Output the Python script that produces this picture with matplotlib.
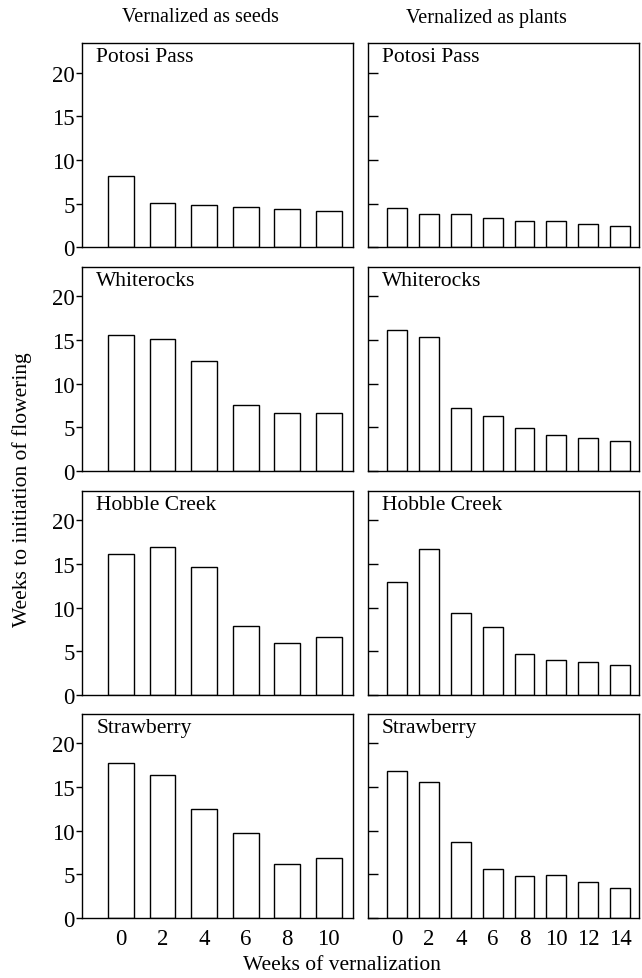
import matplotlib
matplotlib.use("Agg")
import matplotlib.pyplot as plt

plt.rcParams["font.family"] = ["Liberation Serif", "DejaVu Serif"]

# Sites (rows) and treatments (columns)
sites = ["Potosi Pass", "Whiterocks", "Hobble Creek", "Strawberry"]
column_titles = ["Vernalized as seeds", "Vernalized as plants"]

# Weeks of vernalization for each treatment
weeks_seeds = [0, 2, 4, 6, 8, 10]
weeks_plants = [0, 2, 4, 6, 8, 10, 12, 14]

# Weeks to initiation of flowering, seeds vernalized
potosi_seeds = [8.2, 5.1, 4.9, 4.6, 4.4, 4.2]
whiterocks_seeds = [15.6, 15.1, 12.6, 7.6, 6.6, 6.6]
hobble_seeds = [16.1, 16.9, 14.7, 7.9, 6.0, 6.6]
strawberry_seeds = [17.8, 16.4, 12.5, 9.7, 6.2, 6.9]

# Weeks to initiation of flowering, plants vernalized
potosi_plants = [4.5, 3.8, 3.8, 3.4, 3.0, 3.0, 2.7, 2.5]
whiterocks_plants = [16.2, 15.3, 7.2, 6.3, 4.9, 4.1, 3.8, 3.4]
hobble_plants = [13.0, 16.7, 9.4, 7.8, 4.7, 4.0, 3.8, 3.5]
strawberry_plants = [16.8, 15.6, 8.7, 5.6, 4.8, 4.9, 4.1, 3.4]

seeds_data = [potosi_seeds, whiterocks_seeds, hobble_seeds, strawberry_seeds]
plants_data = [potosi_plants, whiterocks_plants, hobble_plants, strawberry_plants]

W, H = 642, 979
fig = plt.figure(figsize=(W / 100, H / 100), dpi=100)

col_left = [82.3, 367.7]
col_width = 271.0
row_top = [44.0, 267.7, 491.7, 714.7]
row_height = 204.4

for r in range(4):
    for c in range(2):
        weeks = weeks_seeds if c == 0 else weeks_plants
        vals = seeds_data[r] if c == 0 else plants_data[r]
        ax = fig.add_axes([col_left[c] / W, 1 - (row_top[r] + row_height) / H,
                           col_width / W, row_height / H])
        pos = list(range(len(weeks)))
        ax.bar(pos, vals, width=0.62, facecolor="white", edgecolor="black",
               linewidth=1.0)
        ax.set_xlim(-0.93, len(weeks) - 1 + 0.59)
        ax.set_ylim(0, 23.4)
        ax.set_yticks([0, 5, 10, 15, 20])
        for s in ax.spines.values():
            s.set_linewidth(1.0)
        if c == 0:
            ax.tick_params(axis="y", direction="out", length=4.5, width=1.0,
                           labelsize=16.5, pad=1)
        else:
            ax.tick_params(axis="y", direction="in", length=7, width=1.0,
                           labelleft=False)
        ax.set_xticks(pos)
        if r == 3:
            ax.set_xticklabels([str(w) for w in weeks])
            ax.tick_params(axis="x", length=0, labelsize=16.5, pad=7)
        else:
            ax.tick_params(axis="x", length=0, labelbottom=False)
        ax.text(14.0 / col_width, 1 - 4.0 / row_height, sites[r],
                transform=ax.transAxes, ha="left", va="top", fontsize=15.5)

fig.text(200 / W, 1 - 18 / H, column_titles[0], ha="center", va="center",
         fontsize=14.5)
fig.text(486 / W, 1 - 18 / H, column_titles[1], ha="center", va="center",
         fontsize=14.5)
fig.text(22 / W, 1 - 490 / H, "Weeks to initiation of flowering",
         rotation=90, ha="center", va="center", fontsize=15.5)
fig.text(342 / W, 1 - 966 / H, "Weeks of vernalization", ha="center",
         va="center", fontsize=15.5)

fig.savefig("out.png", dpi=100, facecolor="white")
